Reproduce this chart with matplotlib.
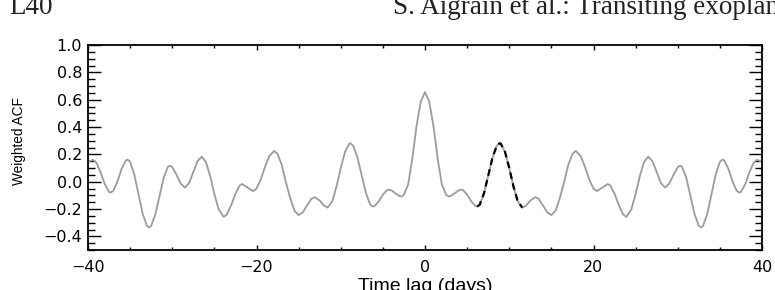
"""Weighted ACF of the light curve against time lag"""
import numpy as np
import matplotlib
matplotlib.use("Agg")
import matplotlib.pyplot as plt
from matplotlib.ticker import MultipleLocator

# ACF is symmetric, values read for lag >= 0 (days)
lag_pos = [0.0, 0.5, 1.0, 1.5, 2.0, 2.5, 2.8, 3.0, 3.5, 4.0, 4.3, 4.5, 5.0, 5.5,
           6.0, 6.2, 6.5, 7.0, 7.5, 8.0, 8.5, 8.85, 9.0, 9.5, 10.0, 10.5, 11.0,
           11.55, 12.0, 12.5, 13.1, 13.5, 14.0, 14.5, 15.0, 15.5, 16.0, 16.5,
           17.0, 17.5, 17.9, 18.5, 19.0, 19.5, 20.0, 20.4, 21.0, 21.7, 22.0,
           22.5, 23.0, 23.5, 23.9, 24.5, 25.0, 25.5, 26.0, 26.5, 27.0, 27.5,
           28.0, 28.5, 29.0, 29.5, 30.0, 30.3, 30.5, 31.0, 31.5, 32.0, 32.5,
           32.75, 33.0, 33.5, 34.0, 34.5, 35.0, 35.3, 35.5, 36.0, 36.5, 37.0,
           37.3, 37.5, 38.0, 38.5, 39.0, 39.4, 40.0]
acf_pos = [0.656, 0.585, 0.410, 0.170, -0.020, -0.095, -0.108, -0.106, -0.086,
           -0.063, -0.058, -0.061, -0.095, -0.145, -0.179, -0.182, -0.168,
           -0.086, 0.043, 0.173, 0.261, 0.281, 0.277, 0.217, 0.100, -0.035,
           -0.143, -0.190, -0.175, -0.138, -0.113, -0.127, -0.174, -0.224,
           -0.245, -0.212, -0.120, -0.007, 0.122, 0.203, 0.225, 0.185, 0.106,
           0.015, -0.051, -0.069, -0.046, -0.017, -0.028, -0.088, -0.171,
           -0.239, -0.258, -0.202, -0.090, 0.041, 0.144, 0.183, 0.150, 0.070,
           -0.010, -0.043, -0.014, 0.051, 0.106, 0.117, 0.110, 0.032, -0.102,
           -0.238, -0.323, -0.335, -0.324, -0.237, -0.094, 0.051, 0.145, 0.162,
           0.156, 0.096, 0.003, -0.067, -0.080, -0.075, -0.020, 0.067, 0.139,
           0.160, 0.145]

# first side peak, marked dashed
peak_start = 6.2
peak_end = 11.55

lag_pos = np.array(lag_pos)
acf_pos = np.array(acf_pos)
lag = np.concatenate([-lag_pos[:0:-1], lag_pos])
acf = np.concatenate([acf_pos[:0:-1], acf_pos])

plt.rcParams['font.family'] = ['DejaVu Sans']

fig = plt.figure(figsize=(7.75, 2.9), dpi=100)
ax = fig.add_axes([88 / 775, 40 / 290, 674 / 775, 205 / 290])

ax.plot(lag, acf, color='#9c9c9c', lw=1.3)
sel = (lag_pos >= peak_start) & (lag_pos <= peak_end)
ax.plot(lag_pos[sel], acf_pos[sel], color='black', lw=1.6, dashes=(3, 2))

ax.set_xlim(-40, 40)
ax.set_ylim(-0.5, 1.0)
ax.xaxis.set_minor_locator(MultipleLocator(5))
ax.yaxis.set_minor_locator(MultipleLocator(0.05))
ax.set_yticks(np.arange(-0.4, 1.01, 0.2))
ax.set_yticklabels(['\u22120.4', '\u22120.2', '0.0', '0.2', '0.4', '0.6', '0.8', '1.0'])
ax.set_xticks([-40, -20, 0, 20, 40])
ax.set_xticklabels(['\u221240', '\u221220', '0', '20', '40'])

ax.tick_params(which='both', direction='in', top=True, right=True,
               labelsize=11.5, width=1.0, color='black')
ax.tick_params(axis='y', which='major', length=9.4, pad=4.3)
ax.tick_params(axis='y', which='minor', length=4.7)
ax.tick_params(axis='x', which='major', length=3.5, pad=7)
ax.tick_params(axis='x', which='minor', length=2.5)
for sp in ax.spines.values():
    sp.set_linewidth(1.3)

ax.set_ylabel('Weighted ACF', fontsize=9.8, family='Liberation Sans')
ax.yaxis.set_label_coords(-0.092, 0.53)
ax.set_xlabel('Time lag (days)', fontsize=14, family='Liberation Sans')
ax.xaxis.set_label_coords(0.5, -0.135)

# running header of the journal page
fig.text(9 / 775, 1 - 14 / 290, 'L40', family='Liberation Serif',
         fontsize=19.5, va='baseline', color='#222222')
fig.text(393 / 775, 1 - 14 / 290, 'S. Aigrain et al.: Transiting exoplanets',
         family='Liberation Serif', fontsize=19.5, va='baseline', color='#222222')

fig.savefig('out.png', dpi=100)
